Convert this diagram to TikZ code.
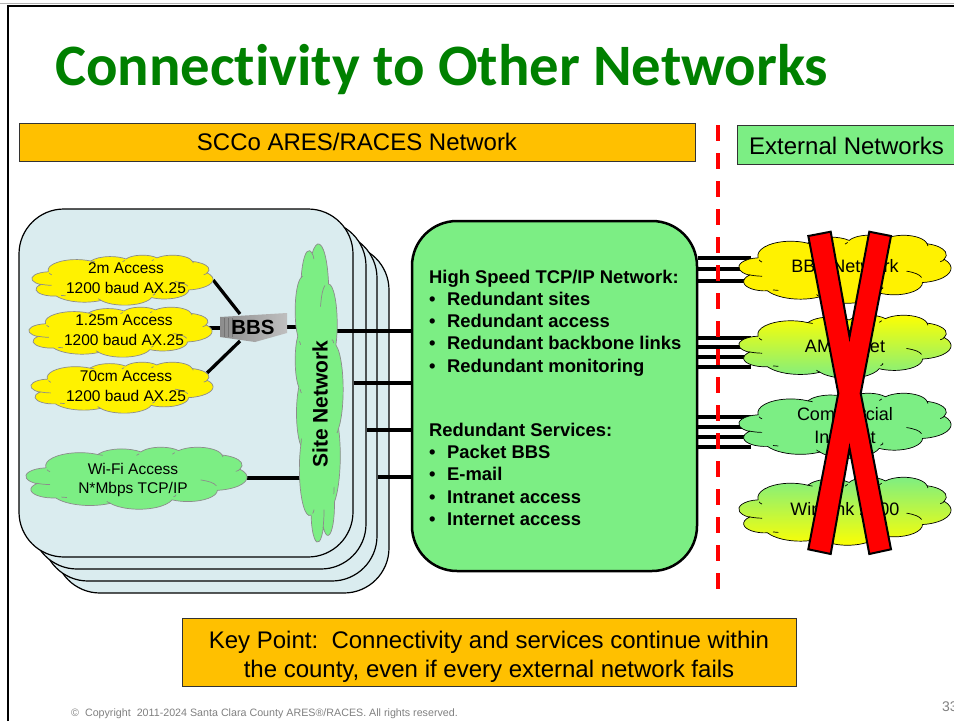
\documentclass[tikz,border=0pt]{standalone}
\usepackage{fontspec}
\setmainfont{Liberation Sans}
\newfontfamily\titlefont[Ligatures=NoCommon]{Carlito}
\usetikzlibrary{positioning}
\definecolor{netgreen}{RGB}{124,238,132}
\definecolor{netorange}{RGB}{255,192,0}
\definecolor{sitefill}{RGB}{218,236,239}
\definecolor{titlegreen}{RGB}{0,128,0}
\pgfdeclarelayer{wires}
\pgfsetlayers{wires,main}
\tikzset{declare function={cloudang(\w,\h,\a)=atan2(\w*sin(\a),\h*cos(\a));}}
\tikzstyle{sitebox}=[draw,fill=sitefill,line width=1.2pt,rounded corners=45pt,minimum width=334pt,minimum height=348pt,inner sep=0pt]
\tikzstyle{banner}=[draw=black!80,line width=1pt,inner sep=0pt]
\tikzstyle{bannertext}=[align=center,inner sep=0pt,font=\fontsize{24}{29}\selectfont]
\tikzstyle{wire}=[draw,line width=3.3pt]
\tikzstyle{cloudbox}=[inner sep=0pt]
\tikzstyle{cloudlabel}=[align=center,inner sep=0pt,font=\fontsize{15.5}{19.5}\selectfont]
\tikzstyle{extlabel}=[align=center,inner sep=0pt,font=\fontsize{18}{23}\selectfont]
\tikzstyle{hubtext}=[anchor=west,align=left,inner sep=0pt,font=\fontsize{18.4}{22.25}\selectfont\bfseries]
\tikzstyle{yellowfill}=[fill=yellow]
\tikzstyle{greenfill}=[fill=netgreen]
\tikzstyle{fadedown}=[top color=yellow,bottom color=netgreen]
\tikzstyle{fadeup}=[top color=netgreen,bottom color=yellow]
\tikzstyle{turned}=[rotate around={90:(216,216)}]
\newcommand{\hubitem}[1]{\makebox[18pt][l]{\textbullet}#1}
% outline of the cloud in a box of 432 by 432
\newcommand{\cloudoutline}{(39,143.7) foreach \w/\h/\s/\d in {67.53/91.90/-190.487/123.781, 53.33/72.67/-144.102/89.945, 43.65/59.45/-145.808/99.723, 48.57/65.95/-130.986/117.242, 53.33/72.73/-78.709/109.027, 67.75/92.20/-46.267/130.269, 57.85/78.67/0.625/114.033, 67.52/92.15/22.452/115.173, 77.20/105.43/66.243/75.711, 43.60/59.18/-274.942/146.736, 43.45/59.45/-246.829/152.519}
  { arc[x radius=\w,y radius=\h,start angle={cloudang(\w,\h,\s)},delta angle={Mod(cloudang(\w,\h,\s+\d)-cloudang(\w,\h,\s),360)}] } -- cycle}
\newcommand{\netcloud}[7][]{
  \begin{scope}[shift={(#2,#3)},xscale={(#4-#2)/432},yscale={(#5-#3)/432},#1]
    \path[draw=#7,line width=.7pt,#6] \cloudoutline;
    \draw[#7,line width=.7pt] (46.9,261.8) to[bend left=15] (20,252)
      (69.3,349) to[bend right=20] (80,352) (164.8,390.9) to[bend left=15] (158,378)
      (288.3,347.5) to[bend right=25] (293,330) (341.3,229.5) to[bend left=25] (372,270)
      (418,153.5) to[bend left=20] (410,170) (383.2,54.3) to[bend left=15] (385,70)
      (290.8,39.5) to[bend left=15] (286,50) (221.4,47.2) to[bend right=15] (216,58)
      (140,51.9) to[bend right=15] (150,58) (41.3,157.9) to[bend right=15] (47,172);
  \end{scope}
}
\begin{document}
\begin{tikzpicture}[x=1pt,y=-1pt]
  \useasboundingbox (0,0) rectangle (954,721);

  % slide frame
  \coordinate (frameTL) at (8,6);
  \coordinate (frameTR) at (954,6);
  \coordinate (frameBL) at (8,721);
  \draw[black!30,line width=1pt] (0,3.5) -- (954,3.5);
  \draw[line width=2pt] (frameBL) -- (frameTL) -- (frameTR);

  \node[anchor=base west,inner sep=0pt,text=titlegreen,font=\titlefont\fontsize{58.7}{64}\selectfont\bfseries] (title) at (55,85) {Connectivity to Other Networks};
  \node[banner,fill=netorange,minimum width=676pt,minimum height=38pt] (sccobar) at (357,142) {};
  \node[bannertext] (sccolabel) at (357,142) {SCCo ARES/RACES Network};
  \node[banner,fill=netgreen,minimum width=240pt,minimum height=39pt,anchor=west] (extbar) at (737,144.5) {};
  \node[bannertext] (extlabel) at (846.5,145.5) {External Networks};

  % stacked sites
  \begin{pgfonlayer}{wires}
    \foreach \name/\xc/\yc in {siteD/222/419, siteC/210/407, siteB/199/395, siteA/186/383}
      \node[sitebox] (\name) at (\xc,\yc) {};
  \end{pgfonlayer}

  % clouds
  \foreach \name/\xa/\ya/\xb/\yb/\look/\tx/\ty/\txt in {
      ctwo/32/255/213/305/yellowfill/126/278/{2m Access\\1200 baud AX.25},
      cone/29/307/212/357/yellowfill/124/330/{1.25m Access\\1200 baud AX.25},
      cseven/31/362/213/413/yellowfill/126/386/{70cm Access\\1200 baud AX.25},
      cwifi/26/447/247/509/greenfill/133/480/{Wi-Fi Access\\N*Mbps TCP/IP}}{
    \netcloud{\xa}{\ya}{\xb}{\yb}{\look}{black!45}
    \node[cloudbox,minimum width={\xb-\xa},minimum height={\yb-\ya}] (\name) at ({(\xa+\xb)/2},{(\ya+\yb)/2}) {};
    \node[cloudlabel] (\name label) at (\tx,\ty) {\txt};
  }
  \foreach \name/\xa/\ya/\xb/\yb/\look/\ty/\txt in {
      cbbs/739/235/951/303/yellowfill/266/{BBS Network},
      camp/739/315/951/378/fadedown/346/{AMPRNet},
      ccom/739/393/951/458/greenfill/425.5/{Commercial\\Internet},
      cwin/739/477/951/545/fadeup/509/{WinLink 2000}}{
    \netcloud{\xa}{\ya}{\xb}{\yb}{\look}{black}
    \node[cloudbox,minimum width={\xb-\xa},minimum height={\yb-\ya}] (\name) at ({(\xa+\xb)/2},{(\ya+\yb)/2}) {};
    \node[extlabel] (\name label) at (845,\ty) {\txt};
  }
  \netcloud[turned]{295}{244}{343}{542}{greenfill}{black!45}
  \node[cloudbox,minimum width=48pt,minimum height=298pt] (sitenet) at (319,393) {};
  \node[inner sep=0pt,rotate=90,font=\fontsize{21}{25}\selectfont\bfseries] (sitelabel) at (320,404) {Site Network};

  % server
  \node[inner sep=0pt,minimum width=67pt,minimum height=28pt] (bbs) at (253.5,327) {};
  \path[left color=black!45,right color=black!25] (220,317) -- (287,313) -- (287,333) -- (255,342) -- (220,337) -- cycle;
  \foreach \xa in {224,228,232}
    \draw[black!55,line width=.6pt] (\xa,318) -- (\xa,337);
  \node[inner sep=0pt,font=\fontsize{20.5}{24}\selectfont\bfseries] (bbslabel) at (253,327) {BBS};

  % central network
  \node[draw,fill=netgreen,line width=2.5pt,rounded corners=45pt,minimum width=285pt,minimum height=350pt,inner sep=0pt] (hub) at (554.5,396) {};
  \node[hubtext] (hubnet) at (429,323) {High Speed TCP/IP Network:\\\hubitem{Redundant sites}\\\hubitem{Redundant access}\\\hubitem{Redundant backbone links}\\\hubitem{Redundant monitoring}};
  \node[hubtext] (hubsvc) at (429,474.3) {Redundant Services:\\\hubitem{Packet BBS}\\\hubitem{E-mail}\\\hubitem{Intranet access}\\\hubitem{Internet access}};

  \begin{pgfonlayer}{wires}
    \coordinate (bbsup) at (240,314);
    \coordinate (bbsdown) at (240,341);
    \coordinate (coneout) at (207,328);
    \coordinate (csevenout) at (207,373);
    \path[wire] (ctwo.east) -- (bbsup);
    \path[wire] (coneout) -- (bbs.west |- coneout);
    \path[wire] (csevenout) -- (bbsdown);
    \path[wire] (bbs.east) -- (sitenet.center |- bbs.east);
    \path[wire] (cwifi.east) -- (sitenet.center |- cwifi.east);
    % site links to the hub
    \foreach \from/\y in {sitenet.center/331, siteA.east/383, siteB.east/430, siteC.east/477}{
      \coordinate (sitelink\y) at (0,\y);
      \path[wire] (\from |- sitelink\y) -- (hub.west |- sitelink\y);
    }
    % links to the outside networks
    \foreach \y in {258,269,281,338,347,357,367,417,427,437,447}{
      \coordinate (extlink\y) at (751,\y);
      \path[wire] (hub.east |- extlink\y) -- (extlink\y);
    }
  \end{pgfonlayer}

  % border line between the networks
  \coordinate (bordertop) at (718,125);
  \coordinate (borderbottom) at (718,590);
  \draw[red,line width=4pt,dash pattern=on 16pt off 12pt] (bordertop) -- (borderbottom);

  % the big cross
  \draw[fill=red,line width=2pt,miter limit=10] (808.3,236) -- (830.7,231.7) -- (849.5,336.7) -- (869.3,231.7) -- (891,236) -- (860.7,393.3) -- (891,549.3) -- (869.3,554) -- (849.5,448.3) -- (830.7,554) -- (808.3,549.3) -- (838.3,393.3) -- cycle;

  \node[banner,fill=netorange,minimum width=614pt,minimum height=68pt] (keybar) at (489,652) {};
  \node[bannertext] (keypoint) at (489,657) {Key Point:\ \ Connectivity and services continue within\\the county, even if every external network fails};

  \node[anchor=base west,inner sep=0pt,text=black!50,font=\fontsize{10.7}{12}\selectfont] (copyright) at (71,716) {©\ \ Copyright\ \ 2011-2024 Santa Clara County ARES®/RACES. All rights reserved.};
  \node[anchor=base west,inner sep=0pt,text=black!50,font=\fontsize{14}{16}\selectfont] (pagenum) at (942,711) {33};
\end{tikzpicture}
\end{document}
